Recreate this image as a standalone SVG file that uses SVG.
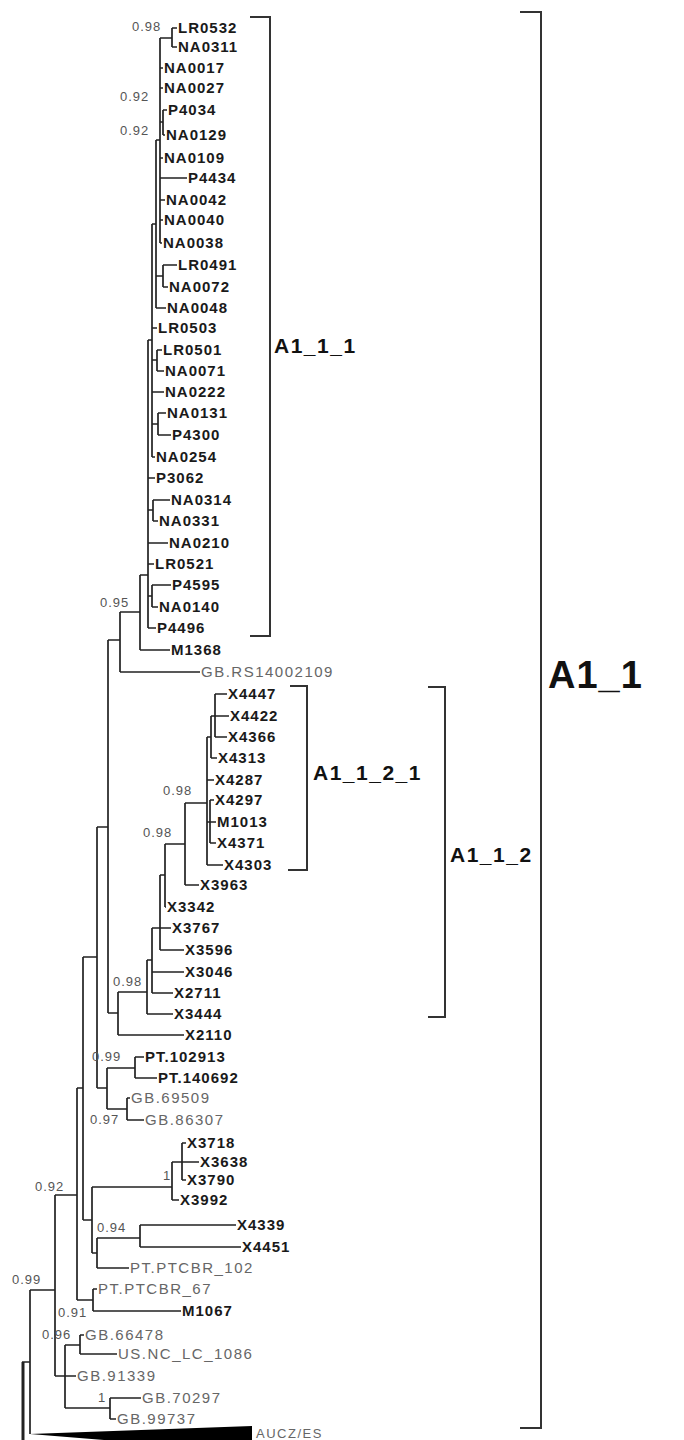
<svg xmlns="http://www.w3.org/2000/svg" width="684" height="1440" viewBox="0 0 684 1440">
<style>
.b{font-family:"Liberation Sans",Arial,sans-serif;font-weight:bold;font-size:15px;letter-spacing:1px;fill:#1a1a1a}
.g{font-family:"Liberation Sans",Arial,sans-serif;font-size:15px;letter-spacing:1.5px;fill:#666}
.s{font-family:"Liberation Sans",Arial,sans-serif;font-size:13px;letter-spacing:1px;fill:#555}
.br{fill:none;stroke:#333;stroke-width:2}
.bl{font-family:"Liberation Sans",Arial,sans-serif;font-weight:bold;font-size:21px;letter-spacing:1.5px;fill:#111}
.tree{fill:none;stroke:#222;stroke-width:1.7}
</style>
<rect width="684" height="1440" fill="#fff"/>
<g id="connectors" class="tree">
<path d="M172,28V47M172,28H177M172,47H177M160,38H172M160,38V243M160,68H163M160,88H163M163,110V135M163,110H167M163,135H165M160,122H163M160,158H163M160,178H187M160,200H165M160,220H163M160,243H162"/>
<path d="M156,140V308M156,140H160M163,265V287M163,265H177M163,287H168M156,276H163M156,308H166"/>
<path d="M152,224V457M152,224H156M152,328H157M157,350V371M157,350H162M157,371H164M152,360H157M152,392H164M158,413V435M158,413H166M158,435H171M152,424H158M152,457H155"/>
<path d="M148,340V628M148,340H152M148,478H155M153,500V521M153,500H170M153,521H158M148,510H153M148,543H168M148,564H154M152,585V607M152,585H171M152,607H158M148,596H152M148,628H156"/>
<path d="M140,575V650M140,575H148M140,650H170M120,612V672M120,612H140M120,672H200M108,640V1013M108,640H120"/>
<path d="M215,694V737M215,694H227M215,716H229M215,737H227M211,716V758M211,716H215M211,758H217M207,737V865M207,737H211M207,780H214M210,800V843M210,800H214M210,822H216M210,843H216M207,822H210M207,865H223M185,803H207M185,803V885M185,885H199"/>
<path d="M165,844V907M165,844H185M165,907H166M160,875V950M160,875H165M160,928H171M160,950H184M152,928V993M152,928H160M152,972H184M152,993H173M147,960V1014M147,960H152M147,1014H173M118,992V1035M118,992H147M118,1035H184M108,1013H118"/>
<path d="M97,827V1088M97,827H108M135,1057V1078M135,1057H144M135,1078H157M107,1068H135M127,1098V1120M127,1098H130M127,1120H144M107,1109H127M107,1068V1109M97,1088H107M83,957V1220M83,957H97"/>
<path d="M182,1143V1180M182,1143H186M182,1162H199M182,1180H186M172,1162V1200M172,1162H182M172,1200H179M92,1187H172M140,1225V1247M140,1225H236M140,1247H241M97,1238V1268M97,1238H140M97,1268H129M92,1187V1253M92,1253H97M83,1220H92"/>
<path d="M77,1088V1300M77,1088H83M93,1289V1311M93,1289H97M93,1311H181M77,1300H93M55,1195V1376M55,1195H77M80,1335V1354M80,1335H84M80,1354H117M65,1345H80M65,1376H76M110,1398V1419M110,1398H141M110,1419H116M65,1408H110M65,1345V1408M55,1376H65M30,1290V1434M30,1290H55M22,1362H30"/>
<path d="M23,1362V1440" stroke-width="3"/>
<polygon points="30,1434 252,1426 252,1452" fill="#000" stroke="none"/>
</g>
<g id="supports" class="s">
<text x="132" y="31">0.98</text>
<text x="120" y="101">0.92</text>
<text x="120" y="135">0.92</text>
<text x="100" y="607">0.95</text>
<text x="163" y="795">0.98</text>
<text x="143" y="837">0.98</text>
<text x="113" y="986">0.98</text>
<text x="92" y="1061">0.99</text>
<text x="90" y="1124">0.97</text>
<text x="163" y="1180">1</text>
<text x="35" y="1191">0.92</text>
<text x="97" y="1232">0.94</text>
<text x="12" y="1284">0.99</text>
<text x="58" y="1317">0.91</text>
<text x="42" y="1339">0.96</text>
<text x="98" y="1402">1</text>
</g>
<g id="leaves">
<g id="n-LR0532"><text class="b" x="178" y="33">LR0532</text></g>
<g id="n-NA0311"><text class="b" x="178" y="52">NA0311</text></g>
<g id="n-NA0017"><text class="b" x="164" y="73">NA0017</text></g>
<g id="n-NA0027"><text class="b" x="164" y="93">NA0027</text></g>
<g id="n-P4034"><text class="b" x="168" y="115">P4034</text></g>
<g id="n-NA0129"><text class="b" x="166" y="140">NA0129</text></g>
<g id="n-NA0109"><text class="b" x="164" y="163">NA0109</text></g>
<g id="n-P4434"><text class="b" x="188" y="183">P4434</text></g>
<g id="n-NA0042"><text class="b" x="166" y="205">NA0042</text></g>
<g id="n-NA0040"><text class="b" x="164" y="225">NA0040</text></g>
<g id="n-NA0038"><text class="b" x="163" y="248">NA0038</text></g>
<g id="n-LR0491"><text class="b" x="178" y="270">LR0491</text></g>
<g id="n-NA0072"><text class="b" x="169" y="292">NA0072</text></g>
<g id="n-NA0048"><text class="b" x="167" y="313">NA0048</text></g>
<g id="n-LR0503"><text class="b" x="158" y="333">LR0503</text></g>
<g id="n-LR0501"><text class="b" x="163" y="355">LR0501</text></g>
<g id="n-NA0071"><text class="b" x="165" y="376">NA0071</text></g>
<g id="n-NA0222"><text class="b" x="165" y="397">NA0222</text></g>
<g id="n-NA0131"><text class="b" x="167" y="418">NA0131</text></g>
<g id="n-P4300"><text class="b" x="172" y="440">P4300</text></g>
<g id="n-NA0254"><text class="b" x="156" y="462">NA0254</text></g>
<g id="n-P3062"><text class="b" x="156" y="483">P3062</text></g>
<g id="n-NA0314"><text class="b" x="171" y="505">NA0314</text></g>
<g id="n-NA0331"><text class="b" x="159" y="526">NA0331</text></g>
<g id="n-NA0210"><text class="b" x="169" y="548">NA0210</text></g>
<g id="n-LR0521"><text class="b" x="155" y="569">LR0521</text></g>
<g id="n-P4595"><text class="b" x="172" y="590">P4595</text></g>
<g id="n-NA0140"><text class="b" x="159" y="612">NA0140</text></g>
<g id="n-P4496"><text class="b" x="157" y="633">P4496</text></g>
<g id="n-M1368"><text class="b" x="171" y="655">M1368</text></g>
<g id="n-GB.RS14002109"><text class="g" x="201" y="677">GB.RS14002109</text></g>
<g id="n-X4447"><text class="b" x="228" y="699">X4447</text></g>
<g id="n-X4422"><text class="b" x="230" y="721">X4422</text></g>
<g id="n-X4366"><text class="b" x="228" y="742">X4366</text></g>
<g id="n-X4313"><text class="b" x="218" y="763">X4313</text></g>
<g id="n-X4287"><text class="b" x="215" y="785">X4287</text></g>
<g id="n-X4297"><text class="b" x="215" y="805">X4297</text></g>
<g id="n-M1013"><text class="b" x="217" y="827">M1013</text></g>
<g id="n-X4371"><text class="b" x="217" y="848">X4371</text></g>
<g id="n-X4303"><text class="b" x="224" y="870">X4303</text></g>
<g id="n-X3963"><text class="b" x="200" y="890">X3963</text></g>
<g id="n-X3342"><text class="b" x="167" y="912">X3342</text></g>
<g id="n-X3767"><text class="b" x="172" y="933">X3767</text></g>
<g id="n-X3596"><text class="b" x="185" y="955">X3596</text></g>
<g id="n-X3046"><text class="b" x="185" y="977">X3046</text></g>
<g id="n-X2711"><text class="b" x="174" y="998">X2711</text></g>
<g id="n-X3444"><text class="b" x="174" y="1019">X3444</text></g>
<g id="n-X2110"><text class="b" x="185" y="1040">X2110</text></g>
<g id="n-PT.102913"><text class="b" x="145" y="1062">PT.102913</text></g>
<g id="n-PT.140692"><text class="b" x="158" y="1083">PT.140692</text></g>
<g id="n-GB.69509"><text class="g" x="131" y="1103">GB.69509</text></g>
<g id="n-GB.86307"><text class="g" x="145" y="1125">GB.86307</text></g>
<g id="n-X3718"><text class="b" x="187" y="1148">X3718</text></g>
<g id="n-X3638"><text class="b" x="200" y="1167">X3638</text></g>
<g id="n-X3790"><text class="b" x="187" y="1185">X3790</text></g>
<g id="n-X3992"><text class="b" x="180" y="1205">X3992</text></g>
<g id="n-X4339"><text class="b" x="237" y="1230">X4339</text></g>
<g id="n-X4451"><text class="b" x="242" y="1252">X4451</text></g>
<g id="n-PT.PTCBR_102"><text class="g" x="130" y="1273">PT.PTCBR_102</text></g>
<g id="n-PT.PTCBR_67"><text class="g" x="98" y="1294">PT.PTCBR_67</text></g>
<g id="n-M1067"><text class="b" x="182" y="1316">M1067</text></g>
<g id="n-GB.66478"><text class="g" x="85" y="1340">GB.66478</text></g>
<g id="n-US.NC_LC_1086"><text class="g" x="118" y="1359">US.NC_LC_1086</text></g>
<g id="n-GB.91339"><text class="g" x="77" y="1381">GB.91339</text></g>
<g id="n-GB.70297"><text class="g" x="142" y="1403">GB.70297</text></g>
<g id="n-GB.99737"><text class="g" x="117" y="1424">GB.99737</text></g>
<g id="n-AUCZ_ES"><text class="g" x="256" y="1438" style="font-size:13px">AUCZ/ES</text></g>
</g>
<g id="clade-A1_1_1"><path class="br" d="M250,17H270V636H250"/><text class="bl" x="274" y="353">A1_1_1</text></g>
<g id="clade-A1_1_2_1"><path class="br" d="M290,686H307V870H288"/><text class="bl" x="313" y="780">A1_1_2_1</text></g>
<g id="clade-A1_1_2"><path class="br" d="M428,687H445V1017H428"/><text class="bl" x="450" y="862">A1_1_2</text></g>
<g id="clade-A1_1"><path class="br" d="M520,12H541V1428H520"/><text class="bl" x="548" y="688" style="font-size:38px;letter-spacing:1px">A1_1</text></g>
</svg>
